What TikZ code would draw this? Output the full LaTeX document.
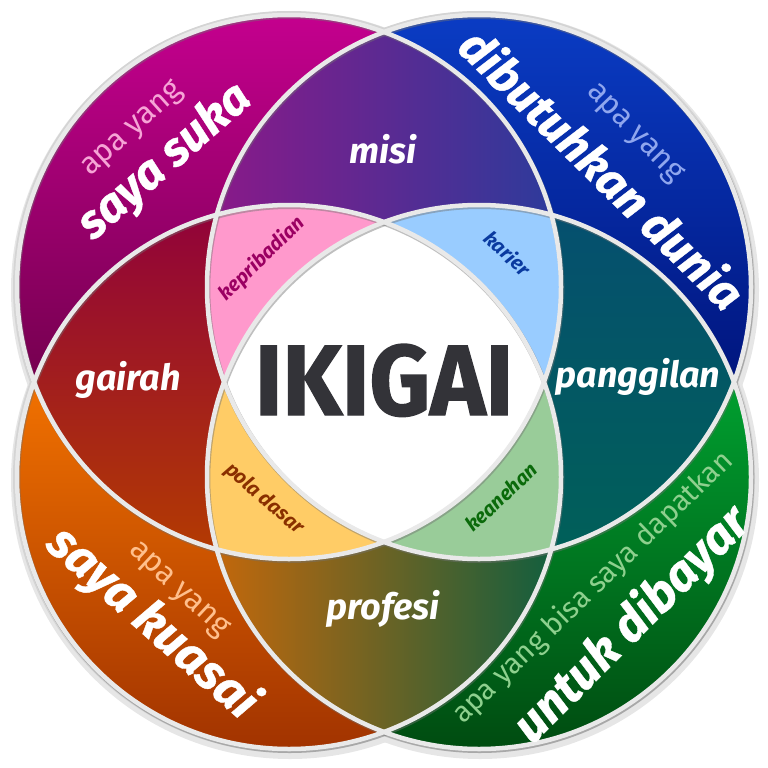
\documentclass[tikz,border=0pt]{standalone}
\usepackage{fontspec}
\setmainfont{Fira Sans}
\newfontfamily\heavyfont{Fira Sans}[BoldItalicFeatures={FakeBold=0.8}, BoldFeatures={FakeBold=1.4}]
\definecolor{tlA}{HTML}{C4008E}
\definecolor{tlB}{HTML}{6C0048}
\definecolor{trA}{HTML}{0A3CC4}
\definecolor{trB}{HTML}{00137A}
\definecolor{blA}{HTML}{F27200}
\definecolor{blB}{HTML}{A03200}
\definecolor{brA}{HTML}{00A030}
\definecolor{brB}{HTML}{004A10}
\definecolor{miA}{HTML}{8C1888}
\definecolor{miB}{HTML}{6A2F99}
\definecolor{miC}{HTML}{2A3C9C}
\definecolor{gaA}{HTML}{90003C}
\definecolor{gaB}{HTML}{A50008}
\definecolor{gaC}{HTML}{B43C00}
\definecolor{paA}{HTML}{064F70}
\definecolor{paB}{HTML}{006262}
\definecolor{paC}{HTML}{006058}
\definecolor{prA}{HTML}{C8680A}
\definecolor{prB}{HTML}{6E6A00}
\definecolor{prC}{HTML}{0C5E40}
\definecolor{pinkF}{HTML}{FF99CC}
\definecolor{blueF}{HTML}{99CCFF}
\definecolor{yelF}{HTML}{FFCC66}
\definecolor{grnF}{HTML}{99CC99}
\definecolor{pinkT}{HTML}{9B0062}
\definecolor{blueT}{HTML}{0A3AA0}
\definecolor{yelT}{HTML}{8A3000}
\definecolor{grnT}{HTML}{0A6A0A}
\definecolor{apaTL}{HTML}{F6A4D6}
\definecolor{apaTR}{HTML}{8FA6EE}
\definecolor{apaBL}{HTML}{FFBF8C}
\definecolor{apaBR}{HTML}{8ED08E}
\definecolor{ikig}{HTML}{333338}
\definecolor{rim}{HTML}{D4D4D4}
\definecolor{shad}{HTML}{E6E6E6}
\definecolor{lineC}{HTML}{E9E9E9}
\begin{document}
\begin{tikzpicture}[x=1pt,y=-1pt,
  big/.style={font=\fontsize{47}{47}\selectfont\heavyfont\bfseries\itshape, text=white, inner sep=0pt},
  apa/.style={font=\fontsize{31}{31}\selectfont, inner sep=0pt},
  mid/.style={font=\fontsize{36}{36}\selectfont\bfseries\itshape, text=white, inner sep=0pt, anchor=base},
  small/.style={font=\fontsize{20}{20}\selectfont\bfseries\itshape, inner sep=0pt},
  ring/.style={line width=4.5pt, lineC},
  ringshadow/.style={line width=5pt, black!55, draw opacity=0.45}]
\useasboundingbox (0,0) rectangle (768,768);
\def\cTL{(289,287) circle[radius=272pt]}
\def\cTR{(479,287) circle[radius=272pt]}
\def\cBL{(289,477) circle[radius=272pt]}
\def\cBR{(479,477) circle[radius=272pt]}
% outer shadow and rim
\foreach \p in {(290,290),(480,290),(290,480),(480,480)}
  \fill[shad] \p circle[radius=279pt];
\foreach \p in {(289,287),(479,287),(289,477),(479,477)}
  \fill[rim] \p circle[radius=276pt];
% single regions
\begin{scope}\clip \cTL; \shade[top color=tlA, bottom color=tlB] (10,15) rectangle (400,420); \end{scope}
\begin{scope}\clip \cTR; \shade[top color=trA, bottom color=trB] (370,15) rectangle (760,400); \end{scope}
\begin{scope}\clip \cBL; \shade[top color=blA, bottom color=blB] (10,380) rectangle (400,755); \end{scope}
\begin{scope}\clip \cBR; \shade[top color=brA, bottom color=brB] (370,380) rectangle (760,755); \end{scope}
% pairs
\begin{scope}\clip \cTL; \clip \cTR;
  \shade[left color=miA, middle color=miB, right color=miC] (205,25) rectangle (565,240); \end{scope}
\begin{scope}\clip \cTL; \clip \cBL;
  \shade[top color=gaA, middle color=gaB, bottom color=gaC] (25,200) rectangle (240,560); \end{scope}
\begin{scope}\clip \cTR; \clip \cBR;
  \shade[top color=paA, middle color=paB, bottom color=paC] (530,200) rectangle (745,560); \end{scope}
\begin{scope}\clip \cBL; \clip \cBR;
  \shade[left color=prA, middle color=prB, right color=prC] (205,530) rectangle (565,740); \end{scope}
% triples
\begin{scope}\clip \cTL; \clip \cTR; \clip \cBL; \fill[pinkF] (0,0) rectangle (768,768); \end{scope}
\begin{scope}\clip \cTL; \clip \cTR; \clip \cBR; \fill[blueF] (0,0) rectangle (768,768); \end{scope}
\begin{scope}\clip \cTL; \clip \cBL; \clip \cBR; \fill[yelF] (0,0) rectangle (768,768); \end{scope}
\begin{scope}\clip \cTR; \clip \cBL; \clip \cBR; \fill[grnF] (0,0) rectangle (768,768); \end{scope}
% centre
\begin{scope}\clip \cTL; \clip \cTR; \clip \cBL; \clip \cBR; \fill[white] (0,0) rectangle (768,768); \end{scope}
% ring lines
\draw[ringshadow] (289.8,288.5) circle[radius=272pt];
\draw[ringshadow] (479.8,288.5) circle[radius=272pt];
\draw[ringshadow] (289.8,478.5) circle[radius=272pt];
\draw[ringshadow] (479.8,478.5) circle[radius=272pt];
\draw[ring] \cTL;
\draw[ring] \cTR;
\draw[ring] \cBL;
\draw[ring] \cBR;
% texts
\node[apa, text=apaTL, rotate=42] (apatl) at (133,130) {apa yang};
\node[big, rotate=41] (suka) at (165,162) {saya suka};
\node[apa, text=apaTR, rotate=-46] (apatr) at (634,134) {apa yang};
\node[big, rotate=-44.5] (dunia) at (603,168) {dibutuhkan dunia};
\node[apa, text=apaBL, rotate=-43] (apabl) at (178,590) {apa yang};
\node[big, font=\fontsize{49}{49}\selectfont\heavyfont\bfseries\itshape, rotate=-41.5] (kuasai) at (152,623) {saya kuasai};
\node[apa, font=\fontsize{29}{29}\selectfont, text=apaBR, rotate=44] (apabr) at (593,588) {apa yang bisa saya dapatkan};
\node[big, font=\fontsize{49}{49}\selectfont\heavyfont\bfseries\itshape, rotate=45] (dibayar) at (632,625) {untuk dibayar};
\node[mid] (misi) at (383,163) {misi};
\node[mid] (gairah) at (128,390) {gairah};
\node[mid] (panggilan) at (638,387) {panggilan};
\node[mid] (profesi) at (383,619) {profesi};
\node[small, text=pinkT, rotate=44] (kepri) at (262,259) {kepribadian};
\node[small, text=blueT, rotate=-43] (karier) at (508,253) {karier};
\node[small, text=yelT, rotate=-41] (pola) at (264,499) {pola dasar};
\node[small, text=grnT, rotate=43] (kean) at (501,497) {keanehan};
\node[font=\fontsize{100}{100}\selectfont\heavyfont\bfseries, text=ikig, anchor=base, xscale=0.94, inner sep=0pt] (ikigai) at (384,415) {IKIGAI};
\end{tikzpicture}
\end{document}
